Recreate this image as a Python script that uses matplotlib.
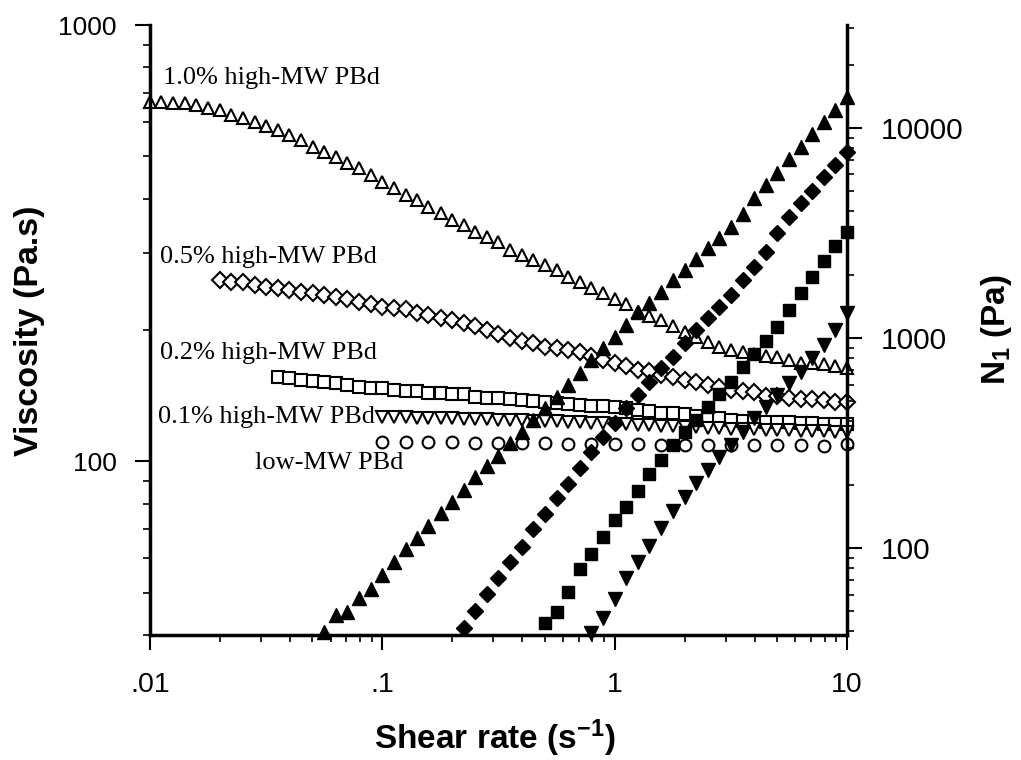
#!/usr/bin/env python3

import numpy as np
import matplotlib
matplotlib.use('Agg')
import matplotlib.pyplot as plt
from matplotlib.ticker import LogLocator, NullFormatter

# shear rates, 20 points per decade (s^-1)
shear_rate = [0.01, 0.0112, 0.0126, 0.0141, 0.0158, 0.0178, 0.02, 0.0224, 0.0251, 0.0282,
	0.0316, 0.0355, 0.0398, 0.0447, 0.0501, 0.0562, 0.0631, 0.0708, 0.0794, 0.0891,
	0.1, 0.112, 0.126, 0.141, 0.158, 0.178, 0.2, 0.224, 0.251, 0.282,
	0.316, 0.355, 0.398, 0.447, 0.501, 0.562, 0.631, 0.708, 0.794, 0.891,
	1.0, 1.12, 1.26, 1.41, 1.58, 1.78, 2.0, 2.24, 2.51, 2.82,
	3.16, 3.55, 3.98, 4.47, 5.01, 5.62, 6.31, 7.08, 7.94, 8.91, 10.0]

# viscosity (Pa.s), every series ends at 10 s^-1
eta_10 = [667, 667, 663, 663, 656, 646, 639, 622, 612, 600, 588, 575, 560, 545, 526, 512, 499, 483, 471, 454,
	437, 424, 408, 398, 383, 371, 358, 348, 336, 327, 319, 305, 297, 290, 282, 275, 265, 258, 250, 243,
	235, 229, 220, 215, 211, 204, 198, 193, 188, 183, 180, 178, 176, 174, 173, 171, 168, 168, 167, 165, 164]
eta_05 = [261, 258, 257, 254, 251, 250, 247, 245, 243, 241, 238, 235, 232, 229, 226, 225, 223, 219, 217, 213,
	211, 208, 204, 200, 196, 192, 189, 187, 183, 182, 180, 178, 174, 171, 168, 165, 162, 161, 158, 156,
	154, 152, 150, 148, 146, 145, 144, 141.5, 141, 140, 139, 139, 138, 137, 137]
eta_02 = [155.7, 154.9, 154, 152.5, 151.6, 150.9, 150, 148.4, 147.6, 147.6, 146, 145.3, 144.6, 143.8, 143.8,
	143, 142.3, 140.8, 140, 140, 138.7, 138, 137.2, 136.5, 135.8, 135, 134.3, 133.6, 133.6, 132.9,
	132.2, 130.8, 130.1, 129.4, 129.4, 128.1, 126.7, 126.1, 125.4, 124.1, 123.4, 123.4, 122.8, 122.8,
	122.8, 122.2, 122.2, 121.5, 121.5, 121.5]
eta_01 = [126.1, 126.1, 126.1, 125.4, 125.4, 125.4, 125.4, 124.8, 124.8, 124.8, 124.1, 124.1, 124.1, 123.4,
	123.4, 123.4, 122.8, 122.8, 122.2, 122.2, 121.5, 121.5, 120.9, 120.9, 120.2, 120.2, 119.6, 119.6,
	119.0, 119.0, 118.3, 118.3, 118.3, 117.7, 117.7, 117.7, 117.1, 117.1, 117.1, 116.5, 116.5]
# low-MW measured at 10 points per decade from 0.1 s^-1
eta_low = [110.5, 110.5, 110.5, 110.5, 109.9, 109.9, 109.9, 109.9, 109.4, 109.4, 109.4, 109.4, 108.8,
	108.8, 108.8, 108.8, 108.8, 108.8, 108.8, 108.2, 109.4]

# first normal stress difference N1 (Pa)
n1_10 = [39.8, 48.0, 49.6, 57.8, 63.8, 74.4, 85.8, 98.9, 111.6, 127.3, 146.8, 165.6, 188.9, 217.8, 245.6,
	274.2, 316.2, 356.6, 407.4, 464.2, 523.6, 597.2, 681, 785.6, 895.8, 1011, 1153, 1330, 1468, 1656,
	1889, 2109, 2379, 2683, 2994, 3379, 3894, 4642, 5355, 6105, 7114, 8128, 9364, 10680, 12180, 14050]
n1_05 = [41.6, 50.1, 60.4, 72.0, 85.8, 101.1, 123.1, 145.2, 173.0, 201.8, 240.5, 286.4, 337.9, 393.9,
	464.2, 535.4, 617.0, 719.7, 812.0, 946.3, 1092, 1245, 1405, 1603, 1889, 2178, 2570, 3162, 3768,
	4393, 5012, 5844, 6668, 7689]
n1_02 = [43.9, 49.6, 61.7, 79.4, 93.6, 112.7, 135.8, 156.6, 186.7, 224.9, 262.3, 309.3, 356.6, 407.4,
	469.2, 540.9, 617, 727.6, 839.5, 968, 1128, 1359, 1638, 1950, 2327, 2743, 3199]
n1_01 = [39.4, 46.4, 57.2, 72.0, 85.8, 102.3, 124.5, 150, 174.8, 204.2, 235.2, 271.2, 309.3, 356.6,
	415.9, 469.2, 535.4, 610.9, 689.1, 803.5, 926.8, 1092, 1315]

labels = ['1.0% high-MW PBd', '0.5% high-MW PBd', '0.2% high-MW PBd', '0.1% high-MW PBd', 'low-MW PBd']
label_pos = [(0.019, 0.913), (0.015, 0.619), (0.015, 0.463), (0.012, 0.358), (0.151, 0.282)]


def tail(y):
	return shear_rate[-len(y):]


def main():
	plt.rcParams['font.family'] = ['Liberation Sans', 'DejaVu Sans']
	plt.rcParams['mathtext.fontset'] = 'custom'
	plt.rcParams['mathtext.rm'] = 'Liberation Sans:bold'
	plt.rcParams['mathtext.bf'] = 'Liberation Sans:bold'
	plt.rcParams['mathtext.default'] = 'rm'

	fig = plt.figure(figsize=(10.21, 7.6), dpi=100)
	ax = fig.add_axes([0.1469, 0.1645, 0.6827, 0.8026])
	ax2 = ax.twinx()

	# 1. viscosity, open symbols
	op = dict(linestyle='none', mfc='white', mec='black', mew=1.5, clip_on=False)
	ax.plot(tail(eta_10), eta_10, marker='^', ms=9, **op)
	ax.plot(tail(eta_05), eta_05, marker='D', ms=8, **op)
	ax.plot(tail(eta_02), eta_02, marker='s', ms=8.5, **op)
	ax.plot(tail(eta_01), eta_01, marker='v', ms=9, **op)
	ax.plot(shear_rate[20::2], eta_low, marker='o', ms=8.5, **op)

	# 2. N1, filled symbols
	fl = dict(linestyle='none', color='black', clip_on=False)
	ax2.plot(tail(n1_10), n1_10, marker='^', ms=10, **fl)
	ax2.plot(tail(n1_05), n1_05, marker='D', ms=8.5, **fl)
	ax2.plot(tail(n1_02), n1_02, marker='s', ms=8.5, **fl)
	ax2.plot(tail(n1_01), n1_01, marker='v', ms=10, **fl)

	for txt, (tx, ty) in zip(labels, label_pos):
		ax.text(tx, ty, txt, transform=ax.transAxes, ha='left', va='center',
			family='Liberation Serif', fontsize=19)

	# 3. axes
	ax.set_xscale('log')
	ax.set_yscale('log')
	ax2.set_yscale('log')
	ax.set_xlim(0.01, 10)
	ax.set_ylim(40, 1000)
	ax2.set_ylim(38.5, 30900)

	ax.set_xticks([0.01, 0.1, 1, 10])
	ax.set_xticklabels(['.01', '.1', '1', '10'])
	ax.set_yticks([100, 1000])
	ax.set_yticklabels(['100', '1000'])
	ax2.set_yticks([100, 1000, 10000])
	ax2.set_yticklabels(['100', '1000', '10000'])
	for a in (ax.xaxis, ax.yaxis, ax2.yaxis):
		a.set_minor_locator(LogLocator(base=10, subs=np.arange(2, 10)))
		a.set_minor_formatter(NullFormatter())

	ax.tick_params(which='major', direction='out', length=11, width=1.5, labelsize=19, pad=13)
	ax.tick_params(axis='x', which='major', labelsize=20.5, pad=16)
	ax.tick_params(which='minor', direction='out', length=5, width=1.2)
	ax2.tick_params(which='major', direction='out', length=11, width=1.5, labelsize=21.5, pad=13)
	ax2.tick_params(which='minor', direction='out', length=5, width=1.2)

	for a in (ax, ax2):
		a.spines['top'].set_visible(False)
	ax.spines['right'].set_visible(False)
	ax2.spines['left'].set_visible(False)
	ax2.spines['bottom'].set_visible(False)
	ax.spines['left'].set_linewidth(2.5)
	ax.spines['bottom'].set_linewidth(2.5)
	ax2.spines['right'].set_linewidth(2.5)

	ax.set_xlabel('Shear rate (s$^{-1}$)', fontsize=24, fontweight='bold')
	ax.xaxis.set_label_coords(0.495, -0.136)
	ax.set_ylabel('Viscosity (Pa.s)', fontsize=24.5, fontweight='bold')
	ax.yaxis.set_label_coords(-0.151, 0.498)
	ax2.set_ylabel('N$_1$ (Pa)', fontsize=24, fontweight='bold')
	ax2.yaxis.set_label_coords(1.19, 0.50)

	fig.savefig('out.png', dpi=100)


if __name__ == "__main__":
	main()
